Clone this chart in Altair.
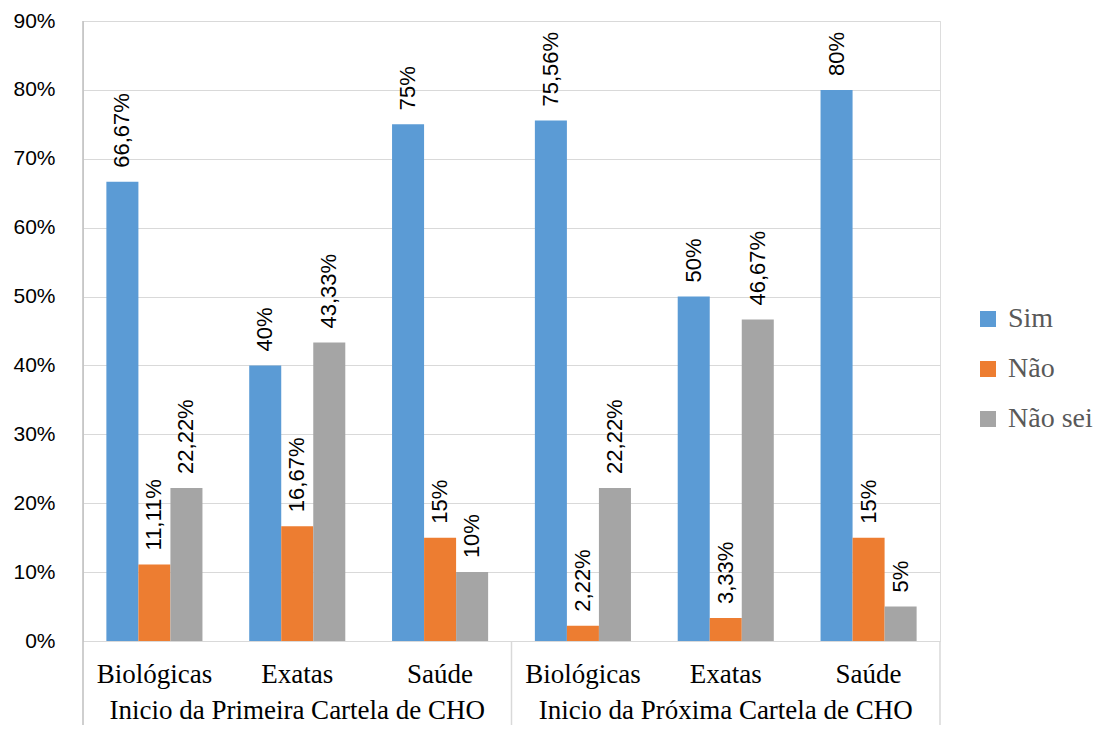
import altair as alt
import pandas as pd

groups = ["Inicio da Primeira Cartela de CHO", "Inicio da Próxima Cartela de CHO"]
areas = ["Biológicas", "Exatas", "Saúde"]
series = ["Sim", "Não", "Não sei"]
colors = ["#5b9bd5", "#ed7d31", "#a5a5a5"]

# values in %, order: group -> area -> series
sim_vals = [66.67, 40, 75, 75.56, 50, 80]
nao_vals = [11.11, 16.67, 15, 2.22, 3.33, 15]
naosei_vals = [22.22, 43.33, 10, 22.22, 46.67, 5]
y_ticks = [0, 0.1, 0.2, 0.3, 0.4, 0.5, 0.6, 0.7, 0.8, 0.9]

def fmt(v):
    return f"{v:g}".replace(".", ",") + "%"

rows = []
keys = []
for gi, g in enumerate(groups):
    for ai, a in enumerate(areas):
        key = f"{gi}|{a}"
        keys.append(key)
        idx = gi * 3 + ai
        for s, vals in zip(series, [sim_vals, nao_vals, naosei_vals]):
            rows.append({"key": key, "group": g, "area": a, "serie": s,
                         "value": vals[idx] / 100, "label": fmt(vals[idx])})
df = pd.DataFrame(rows)

grp_df = pd.DataFrame({"key": [f"{gi}|{areas[1]}" for gi in range(len(groups))], "group": groups})
start_df = pd.DataFrame({"key": [f"{gi}|{areas[0]}" for gi in range(len(groups))], "first": [gi == 0 for gi in range(len(groups))]})
end_df = pd.DataFrame({"key": [keys[-1]]})

W, H = 857, 620

xscale = alt.Scale(domain=keys, paddingInner=0, paddingOuter=0)
xoff = alt.XOffset("serie:N", sort=series, scale=alt.Scale(domain=series, paddingInner=0, paddingOuter=0.73))

bars = alt.Chart(df).mark_bar().encode(
    x=alt.X("key:N", scale=xscale, sort=keys, title=None,
            axis=alt.Axis(labelExpr="split(datum.label,'|')[1]", labelAngle=0, ticks=False, tickSize=0,
                          labelPadding=20, labelFont="Liberation Serif", labelFontSize=27,
                          labelColor="#000000", domainColor="#d9d9d9", domainWidth=1, grid=False)),
    xOffset=xoff,
    y=alt.Y("value:Q", scale=alt.Scale(domain=[0, 0.9], nice=False), title=None,
            axis=alt.Axis(values=y_ticks, format=".0%", ticks=False, tickSize=0, domain=False,
                          labelPadding=28, labelFont="Liberation Sans", labelFontSize=21,
                          labelColor="#000000", gridColor="#d9d9d9", gridWidth=1)),
    color=alt.Color("serie:N", sort=series, scale=alt.Scale(domain=series, range=colors),
                    legend=alt.Legend(title=None, orient="none", legendX=891, legendY=284,
                                      symbolType="square", symbolSize=256, symbolStrokeWidth=0,
                                      labelFont="Liberation Serif", labelFontSize=28,
                                      labelColor="#595959", rowPadding=22, labelOffset=6, padding=0)),
)

labels = alt.Chart(df).mark_text(angle=270, align="left", baseline="middle", dx=14,
                                 font="Liberation Sans", fontSize=22, color="#000000").encode(
    x=alt.X("key:N", scale=xscale, sort=keys),
    xOffset=xoff,
    y="value:Q",
    text="label:N",
)

grp_text = alt.Chart(grp_df).mark_text(baseline="alphabetic", align="center",
                                       font="Liberation Serif", fontSize=27, color="#000000").encode(
    x=alt.X("key:N", scale=xscale, sort=keys),
    y=alt.value(698),
    text="group:N",
)

left_rule = alt.Chart(start_df[start_df["first"]]).mark_rule(color="#bfbfbf", strokeWidth=1.5).encode(
    x=alt.X("key:N", scale=xscale, sort=keys, bandPosition=0),
    y=alt.value(0), y2=alt.value(710),
)
mid_rule = alt.Chart(start_df[~start_df["first"]]).mark_rule(color="#d9d9d9", strokeWidth=1.5).encode(
    x=alt.X("key:N", scale=xscale, sort=keys, bandPosition=0),
    y=alt.value(H), y2=alt.value(710),
)
end_rule = alt.Chart(end_df).mark_rule(color="#d9d9d9", strokeWidth=1.5).encode(
    x=alt.X("key:N", scale=xscale, sort=keys, bandPosition=1),
    y=alt.value(H), y2=alt.value(710),
)

chart = alt.layer(bars, labels, grp_text, left_rule, mid_rule, end_rule).properties(
    width=W, height=H,
    autosize=alt.AutoSizeParams(type="none"),
    padding={"left": 75, "top": 13, "right": 157, "bottom": 84},
).configure_view(stroke=None).configure(background="white")

chart.save("out.html", embed_options={"renderer": "svg", "actions": False})
